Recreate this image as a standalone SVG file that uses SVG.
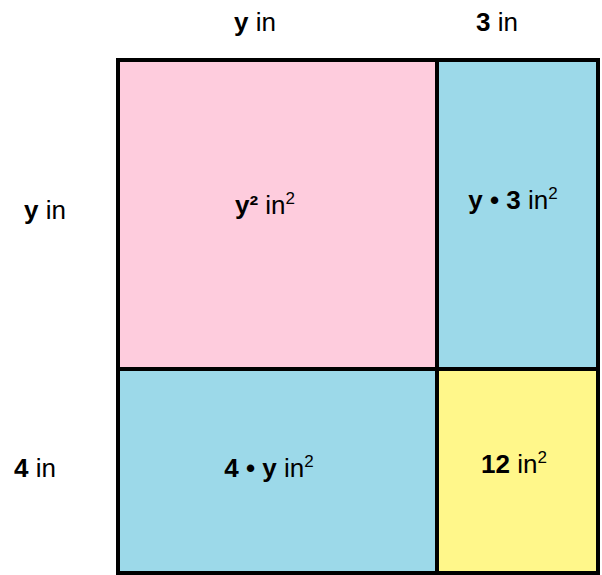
<svg xmlns="http://www.w3.org/2000/svg" width="602" height="575" viewBox="0 0 602 575">
<style>
text{font-family:"Liberation Sans",Arial,sans-serif;font-size:26px;fill:#000;text-anchor:middle}
.b{font-weight:bold}
.s{font-size:17px}
.cell{stroke:#000;stroke-width:4}
.pink{fill:#FECCDD}.blue{fill:#9CD9E9}.yel{fill:#FFF78A}
</style>
<rect width="602" height="575" fill="#fff"/>
<g id="labels">
<text x="255" y="31"><tspan class="b">y</tspan> in</text>
<text x="497" y="31"><tspan class="b">3</tspan> in</text>
<text x="45" y="219"><tspan class="b">y</tspan> in</text>
<text x="35" y="477"><tspan class="b">4</tspan> in</text>
</g>
<g id="n1"><rect class="cell pink" x="118" y="60" width="319" height="309"/>
<text x="265" y="214"><tspan class="b">y²</tspan> in<tspan class="s" dy="-10">2</tspan></text></g>
<g id="n2"><rect class="cell blue" x="437" y="60" width="161" height="309"/>
<text x="513" y="209"><tspan class="b">y • 3</tspan> in<tspan class="s" dy="-10">2</tspan></text></g>
<g id="n3"><rect class="cell blue" x="118" y="369" width="319" height="204"/>
<text x="269" y="477"><tspan class="b">4 • y</tspan> in<tspan class="s" dy="-10">2</tspan></text></g>
<g id="n4"><rect class="cell yel" x="437" y="369" width="161" height="204"/>
<text x="514" y="473"><tspan class="b">12</tspan> in<tspan class="s" dy="-10">2</tspan></text></g>
<g id="connectors"></g>
</svg>
